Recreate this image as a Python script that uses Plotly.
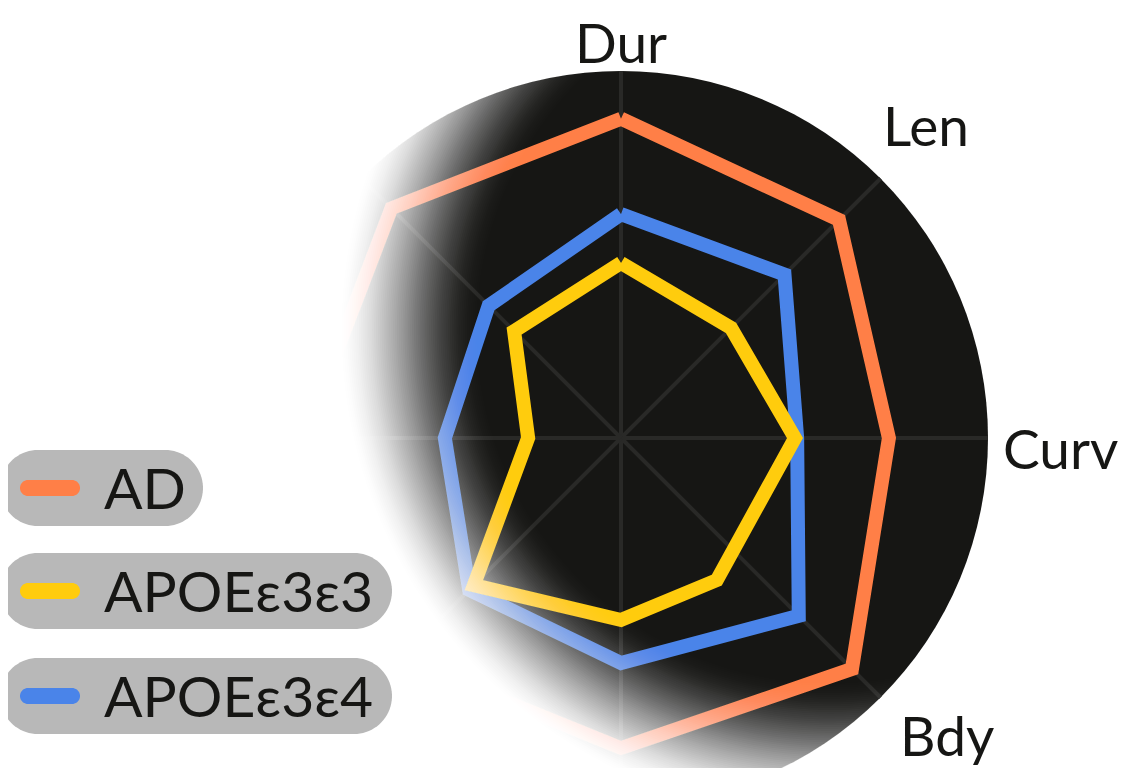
import math

import numpy as np
import plotly.graph_objects as go


# chart data
AXIS_ANGLES = [0, 45, 90, 135, 180, 225, 270, 315]
AXIS_LABELS = ["Dur", "Len", "Curv", "Bdy", "", "", "", ""]

AD_VALUES = [0.87, 0.84, 0.73, 0.89, 0.845, 0.85, 0.865, 0.885]
E3E4_VALUES = [0.61, 0.63, 0.48, 0.685, 0.613, 0.585, 0.48, 0.51]
E3E3_VALUES = [0.477, 0.424, 0.474, 0.467, 0.496, 0.567, 0.253, 0.412]
E3E3_ANGLES = [0, 45, 90, 146, 180, 225, 270, 315]

SERIES_NAMES = ["AD", "APOEε3ε3", "APOEε3ε4"]
SERIES_COLORS = ["#FF7F47", "#FFCC0D", "#4A84E9"]

# page geometry, in screen pixels (the page body adds an 8px margin)
PAGE_OFFSET = 8
W, H = 1124, 800
CX, CY, R = 621, 438, 367
FADE_X, FADE_Y = 830, 330
FADE_R0, FADE_R1, FADE_STEPS = 340, 490, 80

# where the visible axis names sit: (left or centre x, cap-centre y, anchor)
LABEL_SPOTS = {
    "Dur": (621, 42, "center"),
    "Len": (881, 125, "left"),
    "Curv": (1001, 448, "left"),
    "Bdy": (898, 735, "left"),
}

DARK = "#161614"
FONT = "Lato"


def to_paper(x, y):
    return (x - PAGE_OFFSET) / W, 1 - (y - PAGE_OFFSET) / H


def path_from(points):
    parts = []
    for i, (x, y) in enumerate(points):
        px, py = to_paper(x, y)
        parts.append(("M" if i == 0 else "L") + f"{px:.5f},{py:.5f}")
    return " ".join(parts) + " Z"


def cut_region(rb, ra=R + 3):
    # polar disk minus the circle of radius rb around the fade centre
    dx, dy = FADE_X - CX, FADE_Y - CY
    d = math.hypot(dx, dy)
    a0 = math.atan2(dy, dx)
    a = (ra ** 2 - rb ** 2 + d ** 2) / (2 * d)
    h = math.sqrt(max(ra ** 2 - a ** 2, 0))
    beta = math.acos(a / ra)
    gamma = math.atan2(h, a - d)
    pts = []
    for t in np.linspace(a0 + beta, a0 + 2 * math.pi - beta, 140):
        pts.append((CX + ra * math.cos(t), CY + ra * math.sin(t)))
    for s in np.linspace(a0 + 2 * math.pi - gamma, a0 + gamma, 140):
        pts.append((FADE_X + rb * math.cos(s), FADE_Y + rb * math.sin(s)))
    return path_from(pts)


def capsule(x0, y0, x1, y1):
    r = (y1 - y0) / 2
    yc = (y0 + y1) / 2
    pts = []
    for t in np.linspace(-math.pi / 2, math.pi / 2, 40):
        pts.append((x1 - r + r * math.cos(t), yc + r * math.sin(t)))
    for t in np.linspace(math.pi / 2, 3 * math.pi / 2, 40):
        pts.append((x0 + r + r * math.cos(t), yc + r * math.sin(t)))
    return path_from(pts)


def closed(values, angles):
    return list(values) + [values[0]], list(angles) + [angles[0]]


fig = go.Figure()

for name, values, angles, color in [
    (SERIES_NAMES[0], AD_VALUES, AXIS_ANGLES, SERIES_COLORS[0]),
    (SERIES_NAMES[2], E3E4_VALUES, AXIS_ANGLES, SERIES_COLORS[2]),
    (SERIES_NAMES[1], E3E3_VALUES, E3E3_ANGLES, SERIES_COLORS[1]),
]:
    r_vals, t_vals = closed(values, angles)
    fig.add_trace(go.Scatterpolar(
        r=r_vals,
        theta=t_vals,
        mode="lines",
        name=name,
        line=dict(color=color, width=14),
        hoverinfo="skip",
    ))

shapes = []
annotations = []

# white fade over the left part of the disk
prev = 0.0
for k in range(1, FADE_STEPS + 1):
    t = k / FADE_STEPS
    cov = 3 * t ** 2 - 2 * t ** 3
    alpha = 1.0 if k == FADE_STEPS else 1 - (1 - cov) / (1 - prev)
    prev = cov
    rb = FADE_R0 + (FADE_R1 - FADE_R0) * (k - 1) / (FADE_STEPS - 1)
    shapes.append(dict(
        type="path", path=cut_region(rb), xref="paper", yref="paper",
        fillcolor="white", opacity=alpha, layer="above",
        line=dict(width=0, color="rgba(0,0,0,0)"),
    ))

# axis names
for label in AXIS_LABELS:
    if not label:
        continue
    lx, ly, anchor = LABEL_SPOTS[label]
    px, py = to_paper(lx, ly)
    annotations.append(dict(
        text=label, x=px, y=py, xref="paper", yref="paper",
        xanchor=anchor, yanchor="middle", showarrow=False,
        font=dict(family=FONT, size=55, color=DARK),
    ))

# legend pills
pill_tops = [450, 553, 658]
pill_rights = [203, 392, 392]
pill_h = 76
for name, color, top, right in zip(SERIES_NAMES, SERIES_COLORS, pill_tops, pill_rights):
    shapes.append(dict(
        type="path", path=capsule(0, top, right, top + pill_h),
        xref="paper", yref="paper", fillcolor="#B8B8B8", layer="above",
        line=dict(width=0, color="rgba(0,0,0,0)"),
    ))
    mid = top + pill_h / 2
    shapes.append(dict(
        type="path", path=capsule(20, mid - 8, 80, mid + 8),
        xref="paper", yref="paper", fillcolor=color, layer="above",
        line=dict(width=0, color="rgba(0,0,0,0)"),
    ))
    tx, ty = to_paper(102, mid - 1)
    annotations.append(dict(
        text=name, x=tx, y=ty, xref="paper", yref="paper",
        xanchor="left", yanchor="middle", showarrow=False,
        font=dict(family=FONT, size=57, color=DARK),
    ))

dx0, dy1 = to_paper(CX - R, CY - R)
dx1, dy0 = to_paper(CX + R, CY + R)

fig.update_layout(
    width=W,
    height=H,
    margin=dict(l=0, r=0, t=0, b=0),
    paper_bgcolor="white",
    plot_bgcolor="white",
    showlegend=False,
    font=dict(family=FONT, color=DARK),
    polar=dict(
        domain=dict(x=[dx0, dx1], y=[dy0, dy1]),
        bgcolor=DARK,
        radialaxis=dict(visible=False, range=[0, 1], showgrid=False),
        angularaxis=dict(
            direction="clockwise",
            rotation=90,
            tickmode="array",
            tickvals=AXIS_ANGLES,
            ticktext=AXIS_LABELS,
            showticklabels=False,
            showline=False,
            ticks="",
            gridcolor="#292927",
            gridwidth=4,
        ),
    ),
    shapes=shapes,
    annotations=annotations,
)

fig.write_html("out.html")
